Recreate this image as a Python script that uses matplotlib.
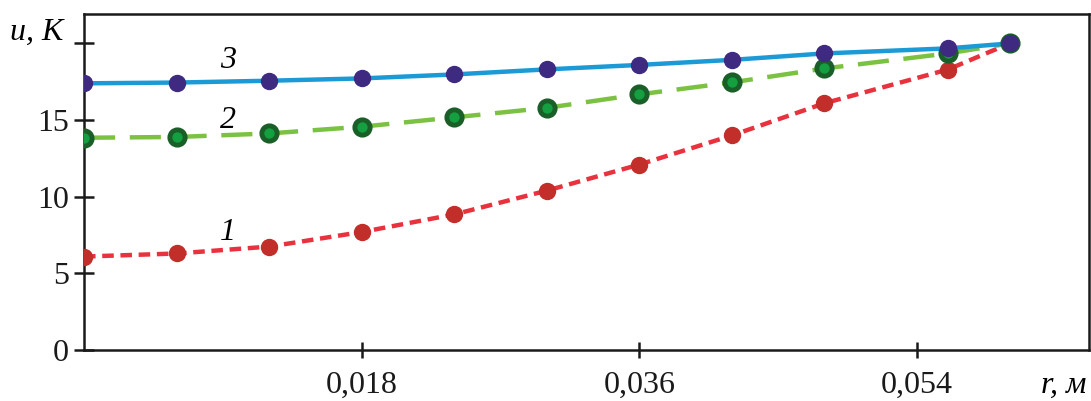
import matplotlib
matplotlib.use("Agg")
import matplotlib.pyplot as plt

r = [0.0, 0.006, 0.012, 0.018, 0.024, 0.030, 0.036, 0.042, 0.048, 0.056, 0.060]
u1 = [6.1, 6.3, 6.75, 7.7, 8.85, 10.4, 12.1, 14.0, 16.1, 18.3, 20.0]
u2 = [13.85, 13.9, 14.13, 14.57, 15.18, 15.8, 16.68, 17.46, 18.37, 19.35, 20.0]
u3 = [17.4, 17.45, 17.57, 17.72, 17.98, 18.31, 18.6, 18.93, 19.35, 19.68, 20.0]

xticks = [0.018, 0.036, 0.054]
xticklabels = ["0,018", "0,036", "0,054"]
yticks = [0, 5, 10, 15, 20]
yticklabels = ["0", "5", "10", "15", ""]

plt.rcParams['font.family'] = ['Liberation Serif', 'DejaVu Serif']

fig = plt.figure(figsize=(10.91, 4.01), dpi=100)
ax = fig.add_axes([0.077, 0.127, 0.921, 0.838])

# curve 1
ax.plot(r, u1, color='#e8323e', lw=3.2, dashes=(2.6, 1.5), zorder=2)
ax.plot(r, u1, 'o', color='#c22e2a', ms=11.5, zorder=3)
# curve 2
ax.plot(r, u2, color='#7cc242', lw=3.2, dashes=(7.0, 3.3), zorder=2)
ax.plot(r, u2, 'o', color='#14a040', mec='#1a5e28', mew=3.5, ms=11, zorder=3)
# curve 3
ax.plot(r, u3, color='#1c9ad6', lw=3.2, zorder=2)
ax.plot(r, u3, 'o', color='#3e2a80', ms=11.5, zorder=4)

ax.set_xlim(0, 0.06514)
ax.set_ylim(0, 21.92)

ax.set_xticks(xticks)
ax.set_xticklabels(xticklabels)
ax.set_yticks(yticks)
ax.set_yticklabels(yticklabels)

for s in ax.spines.values():
    s.set_linewidth(1.8)
    s.set_color('#1a1a1a')

ax.tick_params(axis='x', direction='inout', length=12, width=1.8, labelsize=23, pad=9, colors='#1a1a1a')
ax.tick_params(axis='y', direction='inout', length=14, width=1.8, labelsize=23, pad=4, colors='#1a1a1a')

ax.text(0.00933, 18.9, "3", fontsize=23, style='italic', ha='center', va='center')
ax.text(0.00933, 15.0, "2", fontsize=23, style='italic', ha='center', va='center')
ax.text(0.00933, 7.7, "1", fontsize=23, style='italic', ha='center', va='center')

fig.text(37/1091, 1 - 32/401, "u, K", fontsize=23, style='italic', ha='center', va='center')
fig.text(1086/1091, 1 - 385/401, "r, м", fontsize=23, style='italic', ha='right', va='center')

fig.savefig("out.png", dpi=100)
